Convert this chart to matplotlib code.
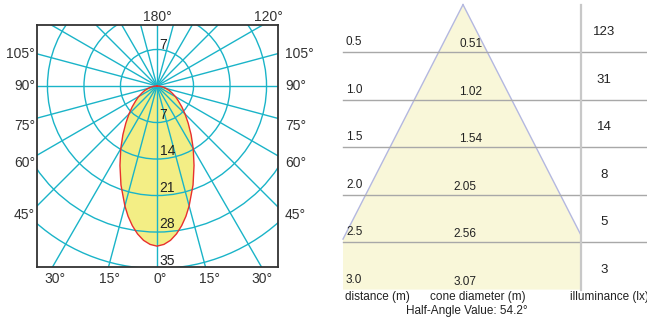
import numpy as np
import matplotlib.pyplot as plt
from matplotlib.patches import Polygon, Circle

# ---------------- data ----------------
beam_angles = [0, 2.5, 5, 7.5, 10, 12.5, 15, 20, 25, 30, 35, 40, 45, 50, 55, 60, 65, 70,
               75, 80, 85, 90]
beam_intensity = [30.7, 30.4, 29.7, 28.6, 27.2, 25.6, 23.8, 20.2, 16.8, 13.9, 11.4, 9.3,
                  7.6, 6.2, 5.0, 4.1, 3.2, 2.5, 1.8, 1.2, 0.6, 0.0]
ring_values = [7, 14, 21, 28, 35]
top_angle_labels = ["180°", "120°"]
side_angle_labels = ["105°", "90°", "75°", "60°", "45°"]
bottom_angle_labels = ["30°", "15°", "0°", "15°", "30°"]

distances = [0.5, 1.0, 1.5, 2.0, 2.5, 3.0]
distance_labels = ["0.5", "1.0", "1.5", "2.0", "2.5", "3.0"]
cone_diameters = [0.51, 1.02, 1.54, 2.05, 2.56, 3.07]
illuminance = [123, 31, 14, 8, 5, 3]
beam_angle = 54.2
column_titles = ["distance (m)", "cone diameter (m)", "illuminance (lx)"]

# ---------------- style ----------------
W, H = 647, 317
CYAN = "#1ab4c8"
NARROW = ["Liberation Sans Narrow", "Liberation Sans", "DejaVu Sans"]
REG = ["Liberation Sans", "DejaVu Sans"]
plt.rcParams["font.family"] = REG

fig = plt.figure(figsize=(W / 100, H / 100), dpi=100)


def fx(x):
    return x / W


def fy(y):
    return 1 - y / H


# ---------------- left: polar intensity diagram ----------------
ax1 = fig.add_axes([fx(37), fy(267), 241 / W, 242 / H])
scale = 5.216  # px per unit
ax1.set_xlim(-120 / scale, 121 / scale)
ax1.set_ylim(-181 / scale, 61 / scale)
ax1.set_xticks([])
ax1.set_yticks([])
for sp in ax1.spines.values():
    sp.set_color("#333333")
    sp.set_linewidth(1.3)
    sp.set_zorder(10)

# beam shape (symmetric)
th = np.deg2rad(np.array(beam_angles, dtype=float))
r = np.array(beam_intensity)
xs_r = r * np.sin(th)
ys_r = -r * np.cos(th)
xs = np.concatenate([-xs_r[::-1], xs_r[1:]])
ys = np.concatenate([ys_r[::-1], ys_r[1:]])
ax1.fill(xs, ys, color="#f3ee85", zorder=1, lw=0)

# grid
for rv in ring_values:
    ax1.add_patch(Circle((0, 0), rv, fill=False, ec=CYAN, lw=1.0, zorder=2))
for a in range(0, 360, 15):
    t = np.deg2rad(a)
    ax1.plot([0, 80 * np.sin(t)], [0, -80 * np.cos(t)], color=CYAN, lw=1.0, zorder=2)

ax1.plot(xs, ys, color="#e8302e", lw=1.0, zorder=3)

# ring labels
ax1.text(0.5, ring_values[0] - 0.4, str(ring_values[0]), ha="left", va="bottom",
         fontsize=10, family=NARROW, color="#222222", zorder=4)
for rv in ring_values:
    ax1.text(0.5, -rv + 0.15, str(rv), ha="left", va="bottom",
             fontsize=10, family=NARROW, color="#222222", zorder=4)

# angle labels
lab_kw = dict(fontsize=10, family=NARROW, color="#333333")
for txt, x in zip(top_angle_labels, [157, 268]):
    fig.text(fx(x), fy(17), txt, ha="center", va="center", **lab_kw)
for txt, y in zip(side_angle_labels, [54, 86, 126, 163, 215]):
    fig.text(fx(35), fy(y), txt, ha="right", va="center", **lab_kw)
    fig.text(fx(285), fy(y), txt, ha="left", va="center", **lab_kw)
for txt, x in zip(bottom_angle_labels, [55, 110, 160, 210, 262]):
    fig.text(fx(x), fy(279), txt, ha="center", va="center", **lab_kw)

# ---------------- right: cone diagram ----------------
ax2 = fig.add_axes([fx(333), 0, 314 / W, 1])
S = 95.0          # px per metre
apx, apy = 463, 4.6


def mx(x):
    return (x - apx) / S


def md(y):
    return (y - apy) / S


ax2.set_xlim(mx(333), mx(647))
ax2.set_ylim(md(317), md(0))
ax2.axis("off")

t = np.tan(np.deg2rad(beam_angle / 2))
xl, xr = mx(343), mx(581)
dmax = distances[-1]
poly = [(0, 0), (xr, xr / t), (xr, dmax), (xl, dmax), (xl, -xl / t)]
ax2.add_patch(Polygon(poly, closed=True, fc="#f9f7d9", ec="none", zorder=1))
ax2.plot([0, xr], [0, xr / t], color="#b4b8e0", lw=1.0, zorder=2)
ax2.plot([0, xl], [0, -xl / t], color="#b4b8e0", lw=1.0, zorder=2)

for d in distances[:-1]:
    ax2.plot([xl, mx(647)], [d, d], color="#a8a8a8", lw=1.0, zorder=3)
ax2.plot([xr, xr], [md(5), dmax], color="#c8c8c8", lw=1.6, zorder=3)

num_kw = dict(fontsize=8.5, color="#222222", zorder=5)
prev = 0.0
for i, (d, dl, cd, il) in enumerate(zip(distances, distance_labels, cone_diameters, illuminance)):
    ax2.text(mx(346), d - 10 / S, dl, ha="left", va="center", **num_kw)
    cx = 471 if i < 3 else 465
    ax2.text(mx(cx), d - 8 / S, f"{cd:.2f}", ha="center", va="center", **num_kw)
    ax2.text(mx(604), (prev + d) / 2 + 4 / S, str(il), ha="center", va="center",
             fontsize=9.5, color="#222222", zorder=5)
    prev = d

title_kw = dict(fontsize=8.5, color="#222222", va="center")
fig.text(fx(345), fy(297), column_titles[0], ha="left", **title_kw)
fig.text(fx(478), fy(297), column_titles[1], ha="center", **title_kw)
fig.text(fx(609), fy(297), column_titles[2], ha="center", **title_kw)
fig.text(fx(467), fy(311), f"Half-Angle Value: {beam_angle}°", ha="center", **title_kw)

fig.savefig("out.png", dpi=100)
